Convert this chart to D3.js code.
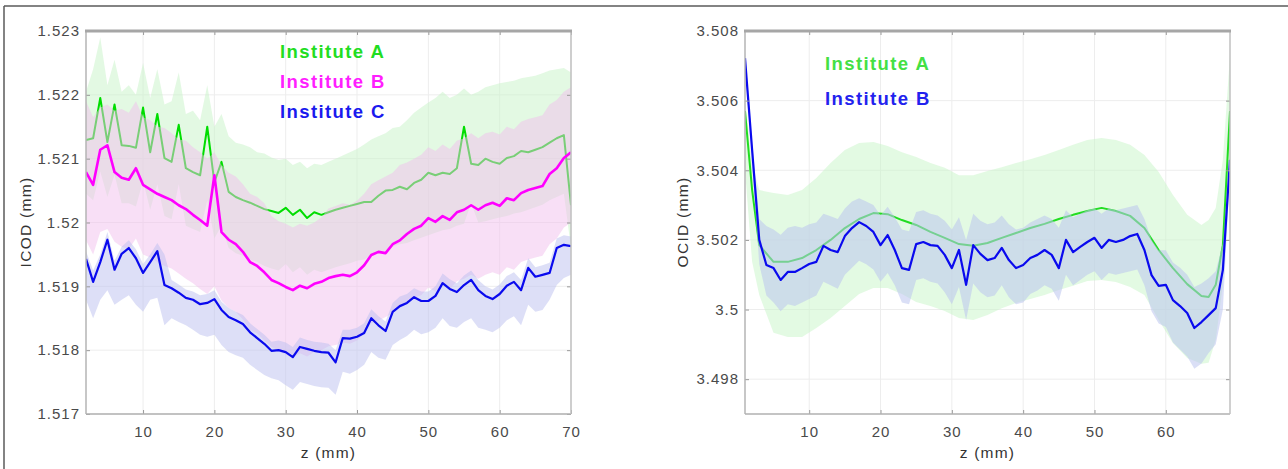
<!DOCTYPE html>
<html><head><meta charset="utf-8">
<script src="https://cdn.jsdelivr.net/npm/d3@7"></script>
<style>
html,body{margin:0;padding:0;background:#fff;}
svg{display:block;}
text{font-family:"Liberation Sans",Arial,Helvetica,sans-serif;}
</style></head><body>
<svg id="c" width="1288" height="469"></svg>
<script>
// ---------- LEFT PANEL DATA (ICOD, mm) ----------
const zLeft = [2,3,4,5,6,7,8,9,10,11,12,13,14,15,16,17,18,19,20,21,22,23,24,25,26,27,28,29,30,31,32,33,34,35,36,37,38,39,40,41,42,43,44,45,46,47,48,49,50,51,52,53,54,55,56,57,58,59,60,61,62,63,64,65,66,67,68,69,70];

const icodA = [1.52129,1.52132,1.52195,1.52126,1.52185,1.52121,1.52120,1.52117,1.52180,1.52110,
1.52170,1.52101,1.52095,1.52153,1.52085,1.52079,1.52074,1.52150,1.52063,1.52095,
1.52048,1.52040,1.52035,1.52031,1.52026,1.52021,1.52018,1.52015,1.52023,1.52012,
1.52020,1.52007,1.52016,1.52012,1.52016,1.52020,1.52023,1.52026,1.52029,1.52032,
1.52032,1.52042,1.52050,1.52051,1.52056,1.52052,1.52062,1.52067,1.52078,1.52074,
1.52078,1.52076,1.52085,1.52150,1.52092,1.52090,1.52100,1.52095,1.52092,1.52101,
1.52104,1.52112,1.52110,1.52114,1.52118,1.52125,1.52132,1.52137,1.52027];
const icodAHi = [1.52205,1.52240,1.52290,1.52215,1.52255,1.52205,1.52215,1.52200,1.52250,1.52195,
1.52240,1.52185,1.52190,1.52235,1.52170,1.52175,1.52160,1.52215,1.52150,1.52170,
1.52135,1.52125,1.52122,1.52118,1.52110,1.52108,1.52102,1.52098,1.52100,1.52090,
1.52095,1.52085,1.52092,1.52090,1.52095,1.52100,1.52105,1.52110,1.52115,1.52122,
1.52130,1.52135,1.52140,1.52148,1.52150,1.52160,1.52172,1.52180,1.52188,1.52195,
1.52205,1.52195,1.52200,1.52210,1.52200,1.52205,1.52212,1.52215,1.52218,1.52220,
1.52222,1.52226,1.52228,1.52230,1.52234,1.52238,1.52240,1.52242,1.52235];
const icodALo = [1.52045,1.52035,1.52080,1.52040,1.52075,1.52030,1.52030,1.52025,1.52065,1.52020,
1.52060,1.52010,1.52005,1.52060,1.51995,1.51990,1.51985,1.52035,1.51975,1.51995,
1.51960,1.51952,1.51948,1.51942,1.51938,1.51932,1.51928,1.51925,1.51935,1.51922,
1.51930,1.51918,1.51926,1.51922,1.51926,1.51930,1.51933,1.51936,1.51940,1.51942,
1.51948,1.51952,1.51956,1.51962,1.51966,1.51968,1.51972,1.51976,1.51980,1.51984,
1.51988,1.51990,1.51995,1.51998,1.52030,1.52000,1.52002,1.52005,1.52008,1.52010,
1.52014,1.52016,1.52020,1.52024,1.52028,1.52035,1.52040,1.52045,1.51960];

const icodB = [1.52079,1.52059,1.52114,1.52121,1.52079,1.52070,1.52067,1.52085,1.52059,1.52052,
1.52045,1.52040,1.52035,1.52027,1.52021,1.52012,1.52004,1.51995,1.52074,1.51985,
1.51973,1.51966,1.51954,1.51938,1.51932,1.51922,1.51910,1.51905,1.51899,1.51894,
1.51901,1.51897,1.51904,1.51907,1.51913,1.51916,1.51918,1.51916,1.51922,1.51933,
1.51949,1.51954,1.51952,1.51966,1.51972,1.51982,1.51990,1.51995,1.52007,1.52001,
1.52010,1.52004,1.52016,1.52020,1.52027,1.52020,1.52027,1.52031,1.52026,1.52038,
1.52035,1.52046,1.52051,1.52054,1.52057,1.52076,1.52085,1.52101,1.52110];
const icodBHi = [1.52190,1.52165,1.52180,1.52185,1.52175,1.52178,1.52172,1.52190,1.52165,1.52160,
1.52150,1.52148,1.52140,1.52130,1.52128,1.52118,1.52110,1.52100,1.52110,1.52090,
1.52078,1.52072,1.52060,1.52045,1.52040,1.52030,1.52010,1.52002,1.51998,1.51992,
1.51998,1.51995,1.52000,1.52008,1.52022,1.52026,1.52030,1.52028,1.52034,1.52045,
1.52060,1.52066,1.52072,1.52078,1.52090,1.52094,1.52100,1.52106,1.52118,1.52112,
1.52122,1.52115,1.52128,1.52132,1.52140,1.52132,1.52140,1.52142,1.52138,1.52150,
1.52146,1.52158,1.52162,1.52165,1.52168,1.52185,1.52192,1.52205,1.52212];
const icodBLo = [1.51972,1.51950,1.51985,1.51990,1.51970,1.51962,1.51958,1.51975,1.51950,1.51945,
1.51938,1.51932,1.51928,1.51920,1.51912,1.51905,1.51896,1.51888,1.51900,1.51878,
1.51866,1.51860,1.51848,1.51832,1.51826,1.51815,1.51805,1.51800,1.51793,1.51788,
1.51795,1.51790,1.51797,1.51800,1.51806,1.51808,1.51812,1.51810,1.51815,1.51826,
1.51842,1.51846,1.51852,1.51858,1.51870,1.51874,1.51882,1.51886,1.51898,1.51892,
1.51902,1.51896,1.51908,1.51912,1.51918,1.51912,1.51918,1.51922,1.51918,1.51930,
1.51926,1.51938,1.51942,1.51945,1.51948,1.51966,1.51975,1.51992,1.52000];

const icodC = [1.51943,1.51907,1.51938,1.51973,1.51926,1.51951,1.51960,1.51944,1.51921,1.51938,
1.51955,1.51902,1.51897,1.51890,1.51882,1.51879,1.51872,1.51874,1.51880,1.51863,
1.51852,1.51847,1.51841,1.51828,1.51819,1.51810,1.51799,1.51800,1.51797,1.51789,
1.51805,1.51802,1.51799,1.51797,1.51796,1.51781,1.51819,1.51818,1.51821,1.51827,
1.51850,1.51839,1.51830,1.51860,1.51869,1.51874,1.51883,1.51877,1.51877,1.51885,
1.51905,1.51896,1.51891,1.51902,1.51910,1.51894,1.51885,1.51880,1.51888,1.51901,
1.51907,1.51894,1.51929,1.51915,1.51918,1.51921,1.51960,1.51965,1.51963];
const icodCHi = [1.51955,1.51925,1.51950,1.51985,1.51940,1.51962,1.51972,1.51958,1.51935,1.51950,
1.51968,1.51950,1.51910,1.51903,1.51895,1.51892,1.51886,1.51888,1.51894,1.51876,
1.51866,1.51860,1.51855,1.51842,1.51833,1.51824,1.51813,1.51815,1.51812,1.51805,
1.51820,1.51816,1.51813,1.51812,1.51810,1.51800,1.51832,1.51832,1.51835,1.51842,
1.51864,1.51853,1.51845,1.51874,1.51884,1.51888,1.51897,1.51892,1.51892,1.51900,
1.51920,1.51911,1.51905,1.51917,1.51925,1.51910,1.51900,1.51895,1.51903,1.51916,
1.51922,1.51910,1.51944,1.51930,1.51933,1.51937,1.51975,1.51980,1.51978];
const icodCLo = [1.51879,1.51850,1.51879,1.51894,1.51871,1.51879,1.51886,1.51871,1.51860,1.51879,
1.51882,1.51839,1.51850,1.51844,1.51839,1.51832,1.51824,1.51821,1.51824,1.51808,
1.51797,1.51792,1.51788,1.51777,1.51769,1.51761,1.51756,1.51753,1.51745,1.51738,
1.51750,1.51747,1.51744,1.51742,1.51741,1.51730,1.51766,1.51763,1.51769,1.51777,
1.51797,1.51788,1.51785,1.51808,1.51816,1.51822,1.51832,1.51825,1.51828,1.51835,
1.51850,1.51838,1.51835,1.51844,1.51850,1.51835,1.51832,1.51828,1.51835,1.51847,
1.51853,1.51839,1.51871,1.51860,1.51863,1.51879,1.51902,1.51913,1.51918];

const xTicksLeft = [10,20,30,40,50,60,70];
const yTicksLeft = [1.517,1.518,1.519,1.52,1.521,1.522,1.523];
const legendLeft = ["Institute A","Institute B","Institute C"];

// ---------- RIGHT PANEL DATA (OCID, mm) ----------
const zRight = [1,2,3,4,5,6,7,8,9,10,11,12,13,14,15,16,17,18,19,20,21,22,23,24,25,26,27,28,29,30,31,32,33,34,35,36,37,38,39,40,41,42,43,44,45,46,47,48,49,50,51,52,53,54,55,56,57,58,59,60,61,62,63,64,65,66,67,68,69];
const ocidB = [3.50722,3.50458,3.50200,3.50128,3.50119,3.50085,3.50108,3.50108,3.50119,3.50131,
3.50137,3.50183,3.50171,3.50165,3.50211,3.50234,3.50251,3.50240,3.50223,3.50185,
3.50214,3.50171,3.50119,3.50114,3.50188,3.50194,3.50185,3.50183,3.50157,3.50119,
3.50171,3.50071,3.50185,3.50160,3.50142,3.50148,3.50177,3.50142,3.50119,3.50128,
3.50148,3.50157,3.50171,3.50157,3.50119,3.50200,3.50165,3.50180,3.50194,3.50206,
3.50177,3.50200,3.50194,3.50200,3.50211,3.50217,3.50171,3.50099,3.50068,3.50071,
3.50027,3.50010,3.49990,3.49947,3.49964,3.49984,3.50004,3.50114,3.50430];
const ocidBHi = [3.50740,3.50480,3.50260,3.50240,3.50230,3.50215,3.50235,3.50240,3.50235,3.50245,
3.50250,3.50275,3.50268,3.50260,3.50290,3.50310,3.50320,3.50310,3.50300,3.50270,
3.50295,3.50265,3.50230,3.50225,3.50280,3.50285,3.50275,3.50270,3.50255,3.50230,
3.50265,3.50200,3.50275,3.50255,3.50245,3.50250,3.50270,3.50245,3.50230,3.50235,
3.50250,3.50260,3.50270,3.50260,3.50235,3.50285,3.50265,3.50275,3.50285,3.50290,
3.50275,3.50290,3.50285,3.50290,3.50295,3.50300,3.50260,3.50200,3.50170,3.50170,
3.50135,3.50120,3.50100,3.50065,3.50075,3.50090,3.50110,3.50190,3.50440];
const ocidBLo = [3.50700,3.50420,3.50130,3.50040,3.50020,3.49995,3.50015,3.50010,3.50020,3.50030,
3.50040,3.50080,3.50070,3.50060,3.50100,3.50120,3.50140,3.50130,3.50115,3.50080,
3.50105,3.50070,3.50020,3.50015,3.50085,3.50090,3.50080,3.50075,3.50050,3.50015,
3.50065,3.49970,3.50075,3.50050,3.50035,3.50040,3.50070,3.50035,3.50015,3.50020,
3.50045,3.50055,3.50070,3.50060,3.50025,3.50100,3.50070,3.50085,3.50100,3.50110,
3.50085,3.50105,3.50100,3.50105,3.50110,3.50115,3.50070,3.49995,3.49960,3.49950,
3.49905,3.49885,3.49865,3.49830,3.49845,3.49875,3.49900,3.50000,3.50400];

const zRightA = [1,2,3,5,7,9,11,13,15,17,19,21,23,25,27,29,31,33,35,37,39,41,43,45,47,49,51,53,55,57,59,61,63,65,66,67,68,69];
const ocidA = [3.50570,3.50343,3.50185,3.50137,3.50137,3.50148,3.50171,3.50200,3.50234,3.50260,
3.50277,3.50274,3.50257,3.50243,3.50223,3.50206,3.50188,3.50183,3.50191,3.50206,
3.50220,3.50234,3.50246,3.50260,3.50272,3.50283,3.50292,3.50283,3.50269,3.50234,
3.50171,3.50119,3.50073,3.50039,3.50036,3.50071,3.50185,3.50570];
const ocidAHi = [3.50602,3.50415,3.50343,3.50335,3.50329,3.50343,3.50378,3.50421,3.50458,3.50478,
3.50481,3.50470,3.50452,3.50438,3.50421,3.50407,3.50386,3.50386,3.50398,3.50409,
3.50421,3.50432,3.50444,3.50458,3.50473,3.50487,3.50493,3.50487,3.50473,3.50444,
3.50395,3.50329,3.50272,3.50243,3.50257,3.50292,3.50430,3.50731];
const ocidALo = [3.50401,3.50137,3.50042,3.49933,3.49921,3.49921,3.49947,3.49976,3.50010,3.50045,
3.50062,3.50062,3.50045,3.50022,3.50010,3.49996,3.49976,3.49970,3.49984,3.50004,
3.50019,3.50030,3.50042,3.50056,3.50068,3.50082,3.50085,3.50079,3.50065,3.50042,
3.49970,3.49904,3.49861,3.49844,3.49847,3.49913,3.50071,3.50401];

const xTicksRight = [10,20,30,40,50,60];
const yTicksRight = [3.498,3.5,3.502,3.504,3.506,3.508];
const legendRight = ["Institute A","Institute B"];

// ---------- DRAWING ----------
const svg = d3.select("#c");

// figure frame edges
svg.append("line").attr("x1",4).attr("y1",6).attr("x2",1288).attr("y2",6).attr("stroke","#5a5a5a").attr("stroke-width",1.5);
svg.append("line").attr("x1",4).attr("y1",6).attr("x2",4).attr("y2",469).attr("stroke","#5a5a5a").attr("stroke-width",1.5);

const fmt = v => String(+v.toFixed(3));

function panel(p){
  const x = d3.scaleLinear().domain(p.xDomain).range([p.left, p.right]);
  const y = d3.scaleLinear().domain(p.yDomain).range([p.bottom, p.top]);
  const g = svg.append("g");

  // grid
  g.selectAll(".gx").data(p.xTicks).enter().append("line")
    .attr("x1",d=>x(d)).attr("x2",d=>x(d)).attr("y1",p.top).attr("y2",p.bottom)
    .attr("stroke","#ededed").attr("stroke-width",1);
  g.selectAll(".gy").data(p.yTicks).enter().append("line")
    .attr("y1",d=>y(d)).attr("y2",d=>y(d)).attr("x1",p.left).attr("x2",p.right)
    .attr("stroke","#ededed").attr("stroke-width",1);

  const clipId = "clip"+p.id;
  svg.append("clipPath").attr("id",clipId).append("rect")
    .attr("x",p.left).attr("y",p.top).attr("width",p.right-p.left).attr("height",p.bottom-p.top);
  const dg = g.append("g").attr("clip-path",`url(#${clipId})`);

  p.series.forEach(s=>{
    const idx = d3.range(s.z.length);
    const area = d3.area().x(i=>x(s.z[i])).y0(i=>y(s.lo[i])).y1(i=>y(s.hi[i]));
    dg.append("path").attr("d",area(idx)).attr("fill",s.band).attr("fill-opacity",s.bandOpacity);
    const line = d3.line().x(i=>x(s.z[i])).y(i=>y(s.mean[i]));
    dg.append("path").attr("d",line(idx)).attr("fill","none").attr("stroke",s.color)
      .attr("stroke-width",s.width).attr("stroke-linejoin","round");
  });

  // axes (inward ticks)
  const tickCol = "#9a9a9a";
  const axB = g.append("g").attr("transform",`translate(0,${p.bottom})`)
    .call(d3.axisBottom(x).tickValues(p.xTicks).tickSize(-4).tickSizeOuter(0).tickPadding(12).tickFormat(d3.format("d")));
  const axL = g.append("g").attr("transform",`translate(${p.left},0)`)
    .call(d3.axisLeft(y).tickValues(p.yTicks).tickSize(-4).tickSizeOuter(0).tickPadding(6).tickFormat(fmt));
  const axT = g.append("g").attr("transform",`translate(0,${p.top})`)
    .call(d3.axisTop(x).tickValues(p.xTicks).tickSize(-4).tickSizeOuter(0).tickFormat(""));
  const axR = g.append("g").attr("transform",`translate(${p.right},0)`)
    .call(d3.axisRight(y).tickValues(p.yTicks).tickSize(-4).tickSizeOuter(0).tickFormat(""));
  [axB,axL,axT,axR].forEach(a=>{
    a.select(".domain").remove();
    a.selectAll("line").attr("stroke",tickCol);
    a.selectAll("text").attr("fill","#4a4a4a").style("font-size","15px").style("letter-spacing","1px")
      .style("font-family",'"Liberation Sans",Arial,sans-serif');
  });

  // box
  g.append("line").attr("x1",p.left).attr("x2",p.left).attr("y1",p.top).attr("y2",p.bottom).attr("stroke","#b4b4b4").attr("stroke-width",1.5);
  g.append("line").attr("x1",p.left).attr("x2",p.right).attr("y1",p.bottom).attr("y2",p.bottom).attr("stroke","#b0b0b0").attr("stroke-width",1.5);
  g.append("line").attr("x1",p.right).attr("x2",p.right).attr("y1",p.top).attr("y2",p.bottom).attr("stroke","#c0c0c0").attr("stroke-width",1.5);
  g.append("line").attr("x1",p.left-1).attr("x2",p.right+1).attr("y1",p.top).attr("y2",p.top).attr("stroke","#a6a6a6").attr("stroke-width",3);

  // axis labels
  g.append("text").attr("x",(p.left+p.right)/2).attr("y",458).attr("text-anchor","middle")
    .attr("fill","#333").style("font-size","15.5px").style("letter-spacing","1.2px").text("z (mm)");
  g.append("text").attr("transform",`translate(${p.ylabX},222) rotate(-90)`).attr("text-anchor","middle")
    .attr("fill","#333").style("font-size","15.5px").style("letter-spacing","1.3px").text(p.ylab);

  // legend
  p.legend.forEach((t,i)=>{
    g.append("text").attr("x",p.legX).attr("y",p.legY[i]).attr("fill",p.legColors[i])
      .style("font-size","18.5px").style("font-weight","bold").style("letter-spacing","1.4px").text(t);
  });
}

panel({
  id:"L", left:86, right:571, top:31, bottom:414,
  xDomain:[2,70], yDomain:[1.517,1.523],
  xTicks:xTicksLeft, yTicks:yTicksLeft,
  ylab:"ICOD (mm)", ylabX:31,
  legend:legendLeft, legX:280, legY:[58,88,118], legColors:["#22dd22","#ff1eff","#1a1aee"],
  series:[
    {z:zLeft, mean:icodA, hi:icodAHi, lo:icodALo, color:"#00dd00", width:2, band:"#c8f3c8", bandOpacity:0.5},
    {z:zLeft, mean:icodB, hi:icodBHi, lo:icodBLo, color:"#ff00ff", width:2.6, band:"#f2c0ee", bandOpacity:0.5},
    {z:zLeft, mean:icodC, hi:icodCHi, lo:icodCLo, color:"#0a0aee", width:2.2, band:"#bcc0f0", bandOpacity:0.5}
  ]
});

panel({
  id:"R", left:745, right:1230, top:31, bottom:414,
  xDomain:[1,69], yDomain:[3.497,3.508],
  xTicks:xTicksRight, yTicks:yTicksRight,
  ylab:"OCID (mm)", ylabX:688,
  legend:legendRight, legX:825, legY:[70,105], legColors:["#44e044","#2222ee"],
  series:[
    {z:zRightA, mean:ocidA, hi:ocidAHi, lo:ocidALo, color:"#22dd22", width:2, band:"#c8f5c8", bandOpacity:0.5},
    {z:zRight, mean:ocidB, hi:ocidBHi, lo:ocidBLo, color:"#0a0aee", width:2.2, band:"#bcc4ee", bandOpacity:0.55}
  ]
});
</script>
</body></html>
